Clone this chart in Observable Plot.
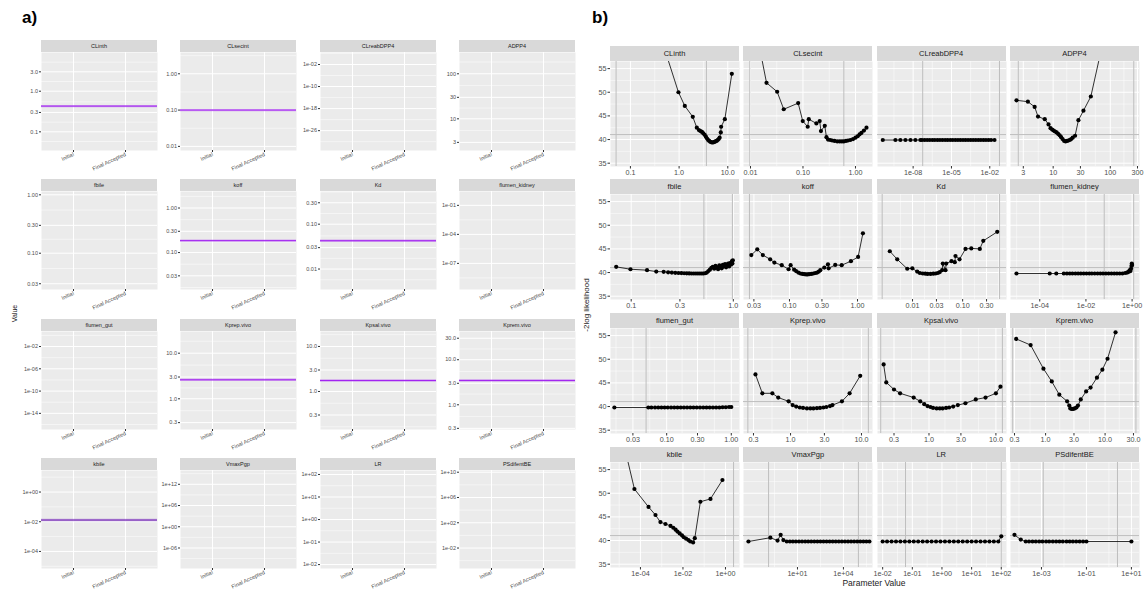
<!DOCTYPE html>
<html><head><meta charset="utf-8">
<script src="https://cdn.jsdelivr.net/npm/d3@7"></script>
<script src="https://cdn.jsdelivr.net/npm/@observablehq/plot@0.6"></script>
<style>
body{margin:0;background:#fff;font-family:"Liberation Sans",Arial,sans-serif;}
#root{position:relative;width:1146px;height:589px;overflow:hidden;background:#fff;}
.strip{position:absolute;background:#D9D9D9;color:#1A1A1A;text-align:center;white-space:nowrap;overflow:hidden;}
.lbl{position:absolute;white-space:nowrap;color:#000;line-height:1;}
</style></head><body><div id="root"></div>
<script>
// ---------- shared ----------
const params = ["CLinth","CLsecint","CLreabDPP4","ADPP4","fbile","koff","Kd","flumen_kidney","flumen_gut","Kprep.vivo","Kpsal.vivo","Kprem.vivo","kbile","VmaxPgp","LR","PSdifentBE"];
const stages = ["Initial","Final Accepted"];

// ---------- panel a data ----------
const aYMin = [0.0347, 0.0077, 6.3e-34, 1.98, 0.0239, 0.0148, 0.0035, 2.0e-10, 1.26e-17, 0.212, 0.143, 0.283, 7.1e-6, 1.6e-12, 0.0067, 5.8e-6];
const aYMax = [8.98, 3.86, 224, 297, 1.14, 2.35, 0.535, 2.7, 5.0, 29.9, 21.5, 42.3, 28.2, 7.9e15, 150, 1.86e10];
const aTicks = [
  [0.1,0.3,1,3],[0.01,0.1,1],[1e-26,1e-18,1e-10,1e-2],[3,10,30,100],
  [0.03,0.1,0.3,1],[0.03,0.1,0.3,1],[0.01,0.03,0.1,0.3],[1e-7,1e-4,1e-1],
  [1e-14,1e-10,1e-6,1e-2],[0.3,1,3,10],[0.3,1,3,10],[0.3,1,3,10,30],
  [1e-4,1e-2,1],[1e-6,1,1e6,1e12],[0.01,0.1,1,10,100],[1e-2,1e2,1e6,1e10]
];
const aTickLabels = [
  ["0.1","0.3","1.0","3.0"],["0.01","0.10","1.00"],["1e-26","1e-18","1e-10","1e-02"],["3","10","30","100"],
  ["0.03","0.10","0.30","1.00"],["0.03","0.10","0.30","1.00"],["0.01","0.03","0.10","0.30"],["1e-07","1e-04","1e-01"],
  ["1e-14","1e-10","1e-06","1e-02"],["0.3","1.0","3.0","10.0"],["0.3","1.0","3.0","10.0"],["0.3","1.0","3.0","10.0","30.0"],
  ["1e-04","1e-02","1e+00"],["1e-06","1e+00","1e+06","1e+12"],["1e-02","1e-01","1e+00","1e+01","1e+02"],["1e-02","1e+02","1e+06","1e+10"]
];
const aLineValues = [0.43, 0.10, null, null, null, 0.185, 0.0428, null, null, 2.61, 1.75, 3.47, 0.013, null, null, null];

// ---------- panel b data ----------
const clinthX = [0.52,0.97,1.31,1.91,2.31,2.55,2.75,2.95,3.15,3.35,3.55,3.75,3.95,4.15,4.4,4.7,5.0,5.3,5.6,5.9,6.2,6.5,6.8,7.18,7.3,8.7,12.1];
const clinthY = [58.7,50.0,47.1,44.8,42.5,42.0,41.8,41.6,41.3,41.0,40.6,40.2,39.9,39.7,39.5,39.4,39.4,39.5,39.6,39.7,39.9,40.1,40.4,41.5,42.7,44.3,53.9];
const clsecintX = [0.0155,0.0202,0.0322,0.043,0.081,0.099,0.123,0.129,0.18,0.208,0.22,0.26,0.28,0.30,0.33,0.36,0.40,0.45,0.50,0.55,0.60,0.66,0.72,0.80,0.90,1.0,1.1,1.2,1.3,1.45,1.62];
const clsecintY = [58.5,52.0,50.1,46.4,47.7,43.9,42.7,44.3,43.4,43.9,41.8,42.9,40.5,40.0,39.9,39.8,39.7,39.6,39.6,39.6,39.6,39.7,39.8,39.9,40.1,40.4,40.7,41.1,41.4,41.9,42.5];
const clreabX = [4.2e-11,4.1e-10,1.0e-9,2.5e-9,6.2e-9,1.5e-8,3.7e-8,5.0e-8,8.0e-8,1.26e-7,2.0e-7,3.2e-7,5.0e-7,8.0e-7,1.26e-6,2.0e-6,3.2e-6,5.0e-6,8.0e-6,1.26e-5,2.0e-5,3.2e-5,5.0e-5,8.0e-5,1.26e-4,2.0e-4,3.2e-4,5.0e-4,8.0e-4,1.26e-3,2.0e-3,3.2e-3,5.0e-3,8.0e-3,1.26e-2,2.34e-2];
const clreabY = [39.9,39.9,39.9,39.9,39.9,39.9,39.9,39.9,39.9,39.9,39.9,39.9,39.9,39.9,39.9,39.9,39.9,39.9,39.9,39.9,39.9,39.9,39.9,39.9,39.9,39.9,39.9,39.9,39.9,39.9,39.9,39.9,39.9,39.9,39.9,39.9];
const adpp4X = [2.28,3.61,4.74,5.43,7.13,8.3,9.0,9.6,10.2,10.8,11.5,12.2,13.0,13.8,14.6,15.6,16.5,17.5,18.5,19.5,20.7,22.0,24.2,27.7,33.9,45.7,72];
const adpp4Y = [48.3,48.0,46.9,44.85,44.3,43.2,42.4,42.1,41.9,41.7,41.5,41.2,40.9,40.5,40.1,39.7,39.6,39.7,39.8,39.9,40.1,40.4,40.8,44.1,46.1,49.1,59.8];
const fbileX = [0.0713,0.0984,0.143,0.176,0.208,0.23,0.25,0.27,0.29,0.31,0.33,0.35,0.37,0.39,0.41,0.43,0.45,0.47,0.49,0.51,0.53,0.55,0.57,0.59,0.61,0.63,0.65,0.67,0.69,0.71,0.73,0.75,0.77,0.79,0.81,0.83,0.85,0.87,0.89,0.91,0.93,0.95,0.97,0.98,0.99];
const fbileY = [41.2,40.7,40.5,40.2,40.15,40.05,40.0,39.95,39.9,39.88,39.85,39.83,39.82,39.8,39.8,39.8,39.8,39.8,39.8,39.8,39.85,40.0,40.3,40.6,41.0,41.2,40.8,41.4,41.1,40.7,41.5,41.2,40.9,41.6,41.3,41.8,41.1,41.6,41.9,41.3,42.0,41.7,42.4,41.9,42.6];
const koffX = [0.0275,0.0336,0.0406,0.052,0.060,0.077,0.097,0.104,0.117,0.125,0.135,0.145,0.155,0.165,0.175,0.185,0.195,0.21,0.225,0.24,0.255,0.27,0.284,0.325,0.368,0.376,0.47,0.585,0.8,1.02,1.2];
const koffY = [43.7,44.9,43.7,42.8,42.1,41.55,40.7,41.55,40.6,40.3,40.0,39.8,39.7,39.65,39.6,39.6,39.65,39.7,39.8,39.9,40.0,40.2,40.5,41.05,41.75,40.9,41.6,41.55,42.4,43.3,48.3];
const kdX = [0.00352,0.00495,0.00784,0.0099,0.0124,0.014,0.016,0.018,0.020,0.0229,0.026,0.029,0.032,0.035,0.039,0.0402,0.0455,0.047,0.0599,0.0697,0.072,0.0866,0.114,0.1487,0.22,0.258,0.49];
const kdY = [44.5,42.8,40.8,40.9,40.2,39.9,39.8,39.75,39.7,39.7,39.75,39.8,39.9,40.1,40.5,41.9,40.5,41.9,42.4,42.2,43.5,42.8,45.0,45.1,45.0,46.7,48.6];
const flkidX = [9.8e-6,2.7e-4,5.2e-4,1.1e-3,1.5e-3,2.0e-3,2.6e-3,3.5e-3,4.6e-3,6.0e-3,8.0e-3,1.05e-2,1.4e-2,1.8e-2,2.4e-2,3.2e-2,4.2e-2,5.5e-2,7.3e-2,9.6e-2,0.127,0.168,0.22,0.29,0.38,0.5,0.6,0.68,0.75,0.8,0.85,0.9,0.94,0.97,1.0];
const flkidY = [39.8,39.8,39.8,39.8,39.8,39.8,39.8,39.8,39.8,39.8,39.8,39.8,39.8,39.8,39.8,39.8,39.8,39.8,39.8,39.8,39.8,39.8,39.8,39.8,39.8,39.9,40.0,40.1,40.3,40.5,40.3,40.8,41.4,41.9,41.6];
const flgutX = [0.0155,0.052,0.058,0.066,0.074,0.083,0.093,0.104,0.117,0.131,0.147,0.165,0.185,0.207,0.232,0.26,0.292,0.328,0.368,0.413,0.463,0.52,0.583,0.654,0.734,0.823,0.924,1.0];
const flgutY = [39.8,39.8,39.8,39.8,39.8,39.8,39.8,39.8,39.8,39.8,39.8,39.8,39.8,39.8,39.8,39.8,39.8,39.8,39.8,39.8,39.8,39.8,39.8,39.8,39.85,39.85,39.9,39.9];
const kprepX = [0.32,0.40,0.554,0.67,0.94,1.07,1.2,1.35,1.5,1.7,1.9,2.1,2.35,2.6,2.9,3.2,3.6,3.9,5.3,6.8,9.6];
const kprepY = [46.8,42.8,42.8,41.9,41.1,40.3,40.0,39.8,39.7,39.6,39.6,39.6,39.65,39.7,39.8,39.9,40.1,40.3,41.1,42.8,46.5];
const kpsalX = [0.21,0.23,0.30,0.37,0.59,0.74,0.85,0.95,1.05,1.15,1.3,1.45,1.6,1.8,2.0,2.3,2.7,3.5,5.0,7.0,10.0,11.7];
const kpsalY = [48.9,45.1,43.6,42.8,41.9,41.1,40.5,40.1,39.9,39.7,39.6,39.6,39.6,39.7,39.8,40.0,40.3,40.7,41.5,41.9,42.8,44.2];
const kpremX = [0.32,0.56,0.92,1.27,1.7,2.3,2.5,2.6,2.75,2.9,3.1,3.3,3.5,3.9,4.8,5.7,7.3,9.0,11,15];
const kpremY = [54.3,53.0,48.0,45.3,42.5,41.1,40.2,39.6,39.5,39.5,39.6,39.8,40.2,41.5,43.2,44.0,46.1,47.8,50.1,55.7];
const kbileX = [2.2e-5,5.2e-5,2.4e-4,5.1e-4,8.7e-4,1.5e-3,2.6e-3,3.5e-3,4.5e-3,5.5e-3,7.0e-3,9.0e-3,1.1e-2,1.4e-2,1.8e-2,2.2e-2,3.0e-2,3.6e-2,0.066,0.197,0.72];
const kbileY = [58,50.9,47.1,45.4,43.9,43.5,43.1,42.7,42.3,41.9,41.5,41.1,40.7,40.4,40.1,39.8,39.6,40.5,48.2,48.8,52.8];
const vmaxX = [0.0063,0.17,0.5,0.8,1.2,2,3.2,5,7.9,12.6,20,32,50,79,126,200,316,500,794,1260,2000,3160,5000,7940,12600,20000,31600,50000,79400,126000,200000,316000,500000];
const vmaxY = [39.8,40.6,40.0,41.2,40.1,39.8,39.8,39.8,39.8,39.8,39.8,39.8,39.8,39.8,39.8,39.8,39.8,39.8,39.8,39.8,39.8,39.8,39.8,39.8,39.8,39.8,39.8,39.8,39.8,39.8,39.8,39.8,39.8];
const lrX = [0.01,0.0141,0.02,0.0282,0.0398,0.0562,0.0794,0.112,0.158,0.224,0.316,0.447,0.631,0.891,1.26,1.78,2.51,3.55,5.01,7.08,10,14.1,20,28.2,39.8,56.2,79.4,100];
const lrY = [39.8,39.8,39.8,39.8,39.8,39.8,39.8,39.8,39.8,39.8,39.8,39.8,39.8,39.8,39.8,39.8,39.8,39.8,39.8,39.8,39.8,39.8,39.8,39.8,39.8,39.8,39.8,40.9];
const psdX = [6.3e-5,1.2e-4,2.0e-4,2.8e-4,4.0e-4,5.6e-4,7.9e-4,1.1e-3,1.6e-3,2.2e-3,3.2e-3,4.5e-3,6.3e-3,8.9e-3,1.3e-2,1.8e-2,2.5e-2,3.5e-2,5.0e-2,7.1e-2,0.1,10];
const psdY = [41.2,40.2,39.8,39.8,39.8,39.8,39.8,39.8,39.8,39.8,39.8,39.8,39.8,39.8,39.8,39.8,39.8,39.8,39.8,39.8,39.8,39.8];

const bSeriesX = [clinthX,clsecintX,clreabX,adpp4X,fbileX,koffX,kdX,flkidX,flgutX,kprepX,kpsalX,kpremX,kbileX,vmaxX,lrX,psdX];
const bSeriesY = [clinthY,clsecintY,clreabY,adpp4Y,fbileY,koffY,kdY,flkidY,flgutY,kprepY,kpsalY,kpremY,kbileY,vmaxY,lrY,psdY];
const bXMin = [0.039,0.00736,1.62e-11,1.79,0.0627,0.0211,0.002,5.4e-6,0.0135,0.217,0.17,0.257,3.9e-6,0.003,0.0067,4.2e-5];
const bXMax = [17.4,2.11,0.204,325,1.15,1.66,0.75,2.09,1.34,14.3,14.4,37.9,4.57,7.9e5,150,22.9];
const bTicks = [
  [0.1,1,10],[0.01,0.1,1],[1e-8,1e-5,1e-2],[3,10,30,100,300],
  [0.1,0.3,1],[0.03,0.1,0.3,1],[0.01,0.03,0.1,0.3],[1e-4,1e-2,1],
  [0.03,0.1,0.3,1],[0.3,1,3,10],[0.3,1,3,10],[0.3,1,3,10,30],
  [1e-4,1e-2,1],[10,1e4],[0.01,0.1,1,10,100],[1e-3,1e-1,10]
];
const bTickLabels = [
  ["0.1","1.0","10.0"],["0.01","0.10","1.00"],["1e-08","1e-05","1e-02"],["3","10","30","100","300"],
  ["0.1","0.3","1.0"],["0.03","0.10","0.30","1.00"],["0.01","0.03","0.10","0.30"],["1e-04","1e-02","1e+00"],
  ["0.03","0.10","0.30","1.00"],["0.3","1.0","3.0","10.0"],["0.3","1.0","3.0","10.0"],["0.3","1.0","3.0","10.0","30.0"],
  ["1e-04","1e-02","1e+00"],["1e+01","1e+04"],["1e-02","1e-01","1e+00","1e+01","1e+02"],["1e-03","1e-01","1e+01"]
];
const bVLines = [[0.0508,3.64],[0.0097,0.6],[5.6e-8,0.0575],[2.45,258],[0.515,0.98],[0.0258],[0.00248,0.545],[0.062,1.17],[0.048],[0.25,12.5],[0.19,12.5],[0.28,33],[2.4],[0.13,95000],[0.059,100],[1.2e-3,2.4]];
const bYTicks = [35,40,45,50,55];
const bThreshold = 41.05;

// ---------- layout / style ----------
const FONT = "'Liberation Sans',Arial,sans-serif";
const TXT = "#4D4D4D";
const root = document.getElementById("root");
const A_COL_X = [41,180,320,459], A_W = 116, A_STRIP_TOP = [40,179,319,458], A_STRIP_H = 12, A_H = 98, A_ML = 36, A_MB = 30;
const B_COL_X = [610,743.3,876.7,1010], B_W = 129, B_STRIP_TOP = [45.5,179.2,312.9,446.6], B_STRIP_H = 15, B_H = 105, B_MB = 16;
const B_YDOM = [34.3,56.5];

function place(el, left, top){ el.style.position="absolute"; el.style.left=left+"px"; el.style.top=top+"px"; root.appendChild(el); }
function label(text, left, top, css){ const d=document.createElement("div"); d.className="lbl"; d.textContent=text; d.style.cssText+=css; place(d,left,top); return d; }
function strip(text, left, top, w, h, fs){ const d=document.createElement("div"); d.className="strip"; d.textContent=text; d.style.width=w+"px"; d.style.height=h+"px"; d.style.lineHeight=h+"px"; d.style.fontSize=fs+"px"; place(d,left,top); }
function minorLog(majors, lo, hi){
  const b = majors.map(Math.log10); const bd = b[1]-b[0];
  const e = [b[0]-bd, ...b, b[b.length-1]+bd]; const out=[];
  for (let i=0;i<e.length-1;i++) out.push(10**((e[i]+e[i+1])/2));
  return out.filter(v=>v>lo && v<hi);
}
const svgStyle = `background:transparent;overflow:visible;font-family:${FONT};color:#333;`;

// ---------- panel a ----------
label("a)", 22, 9, "font-size:17px;font-weight:bold;");
label("Value", -1, 310, "font-size:7px;color:#1A1A1A;transform:rotate(-90deg);transform-origin:center;width:30px;text-align:center;");
params.forEach((p,i)=>{
  const r=Math.floor(i/4), c=i%4;
  const x0=A_COL_X[c], top=A_STRIP_TOP[r];
  strip(p, x0, top, A_W, A_STRIP_H, 5.5);
  const ticks=aTicks[i], labs=aTickLabels[i];
  const lo=aYMin[i], hi=aYMax[i];
  const col = p==="kbile" ? "#7426B8" : "#A020F0";
  const marks=[
    Plot.frame({fill:"#EBEBEB", stroke:"none"}),
    Plot.gridY(minorLog(ticks,lo,hi), {stroke:"white", strokeOpacity:1, strokeWidth:0.5}),
    Plot.gridY(ticks, {stroke:"white", strokeOpacity:1, strokeWidth:1}),
    Plot.gridX(stages, {stroke:"white", strokeOpacity:1, strokeWidth:1})
  ];
  if (aLineValues[i]!=null){
    marks.push(Plot.ruleY([aLineValues[i]], {stroke:col, strokeWidth:2.4, strokeOpacity:0.35}));
    marks.push(Plot.ruleY([aLineValues[i]], {stroke:col, strokeWidth:1}));
  }
  marks.push(Plot.axisY(ticks, {tickFormat:()=>"", tickSize:2, label:null}));
  marks.push(Plot.text(ticks, {y:d=>d, text:labs, frameAnchor:"left", textAnchor:"end", dx:-3.5, fontSize:5.5, fill:TXT}));
  marks.push(Plot.axisX(stages, {tickRotate:-25, tickSize:2, tickPadding:1.5, fontSize:5.5, fill:TXT, label:null}));
  const svg = Plot.plot({
    width:A_ML+A_W, height:A_H+A_MB, marginLeft:A_ML, marginRight:0, marginTop:0, marginBottom:A_MB,
    x:{type:"point", domain:stages, padding:0.6},
    y:{type:"log", domain:[lo,hi]},
    style:svgStyle, marks
  });
  place(svg, x0-A_ML, top+A_STRIP_H);
});

// ---------- panel b ----------
label("b)", 592, 9, "font-size:17px;font-weight:bold;");
label("-2log likelihood", 537, 301, "font-size:8px;color:#1A1A1A;transform:rotate(-90deg);transform-origin:center;width:100px;text-align:center;");
label("Parameter Value", 824, 578.5, "font-size:8.5px;color:#1A1A1A;width:100px;text-align:center;");
params.forEach((p,i)=>{
  const r=Math.floor(i/4), c=i%4;
  const x0=B_COL_X[c], top=B_STRIP_TOP[r];
  strip(p, x0, top, B_W, B_STRIP_H, 7.5);
  const ticks=bTicks[i], labs=bTickLabels[i];
  const lo=bXMin[i], hi=bXMax[i];
  const xs=bSeriesX[i], ys=bSeriesY[i];
  const idx = xs.map((_,k)=>k);
  const ml = c===0 ? 30 : 0;
  const marks=[
    Plot.frame({fill:"#EBEBEB", stroke:"none"}),
    Plot.gridX(minorLog(ticks,lo,hi), {stroke:"white", strokeOpacity:1, strokeWidth:0.5}),
    Plot.gridY([37.5,42.5,47.5,52.5], {stroke:"white", strokeOpacity:1, strokeWidth:0.5}),
    Plot.gridX(ticks, {stroke:"white", strokeOpacity:1, strokeWidth:1}),
    Plot.gridY(bYTicks, {stroke:"white", strokeOpacity:1, strokeWidth:1}),
    Plot.ruleY([bThreshold], {stroke:"#BEBEBE", strokeWidth:1}),
    Plot.ruleX(bVLines[i], {stroke:"#BEBEBE", strokeWidth:1}),
    Plot.line(idx, {x:k=>xs[k], y:k=>ys[k], stroke:"black", strokeWidth:0.8, clip:true}),
    Plot.dot(idx, {x:k=>xs[k], y:k=>ys[k], r:2.1, fill:"black", clip:true}),
    Plot.axisX(ticks, {tickFormat:()=>"", tickSize:2.5, label:null}),
    Plot.text(ticks, {x:d=>d, text:labs, frameAnchor:"bottom", lineAnchor:"top", dy:3.5, fontSize:7.2, fill:TXT})
  ];
  if (c===0) marks.push(Plot.axisY(bYTicks, {tickSize:2.5, tickPadding:1.5, fontSize:7.2, fill:TXT, label:null}));
  const svg = Plot.plot({
    width:ml+B_W, height:B_H+B_MB, marginLeft:ml, marginRight:0, marginTop:0, marginBottom:B_MB,
    x:{type:"log", domain:[lo,hi]},
    y:{domain:B_YDOM, axis: c===0 ? undefined : null},
    style:svgStyle, marks
  });
  place(svg, x0-ml, top+B_STRIP_H);
});
</script></body></html>
